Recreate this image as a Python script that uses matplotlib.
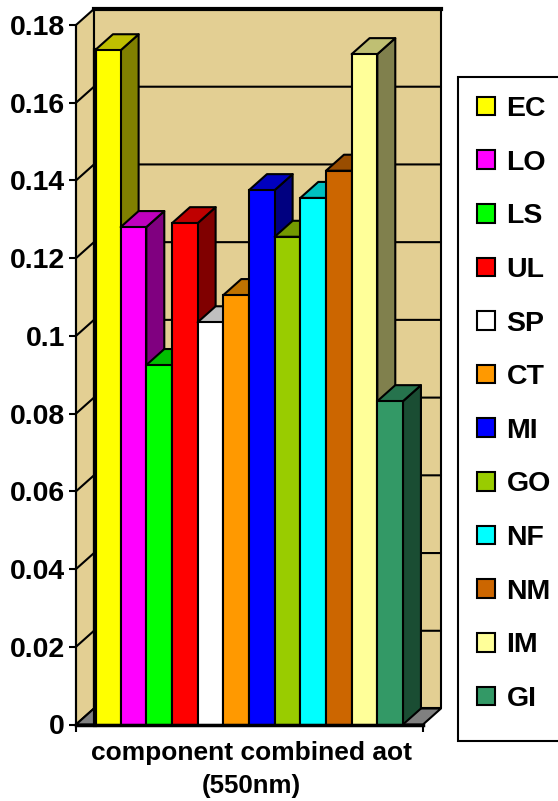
import matplotlib
matplotlib.use("Agg")
import matplotlib.pyplot as plt
from matplotlib.patches import Polygon, Patch, Rectangle

plt.rcParams['font.family'] = ['Liberation Sans', 'DejaVu Sans']
plt.rcParams['font.weight'] = 'bold'

# values
names = ["EC", "LO", "LS", "UL", "SP", "CT", "MI", "GO", "NF", "NM", "IM", "GI"]
values = [0.1735, 0.128, 0.0925, 0.129, 0.1035, 0.1105, 0.1375, 0.1255, 0.1355, 0.1425, 0.1725, 0.0832]
front_colors = ["#FFFF00", "#FF00FF", "#00FF00", "#FF0000", "#FFFFFF", "#FF9900",
                "#0000FF", "#99CC00", "#00FFFF", "#CC6600", "#FFFF99", "#339966"]
y_ticks = [0, 0.02, 0.04, 0.06, 0.08, 0.1, 0.12, 0.14, 0.16, 0.18]
y_tick_labels = ["0", "0.02", "0.04", "0.06", "0.08", "0.1", "0.12", "0.14", "0.16", "0.18"]

wall_color = "#E3CF93"
floor_color = "#808080"
x_min, x_max = -1.24, 12.28
y_max = 0.18
depth_x = 0.70      # depth of the fake 3d box, in data units
depth_y = 0.00412
lw = 1.5


def shade(color, k):
    r, g, b = matplotlib.colors.to_rgb(color)
    return (r * k, g * k, b * k)


fig = plt.figure(figsize=(5.58, 8.01), dpi=100)
ax = fig.add_axes([76 / 558, 1 - 724.5 / 801, 347 / 558, 699.5 / 801])
ax.set_xlim(x_min, x_max)
ax.set_ylim(0, y_max)
ax.patch.set_visible(False)


def poly(points, face, z=1, width=lw):
    ax.add_patch(Polygon(points, closed=True, facecolor=face, edgecolor="black",
                         linewidth=width, clip_on=False, zorder=z, joinstyle="round"))


# back wall, left wall, floor
back_x0 = x_min + depth_x
back_x1 = x_max + depth_x
poly([(back_x0, depth_y), (back_x1, depth_y), (back_x1, y_max + depth_y), (back_x0, y_max + depth_y)], wall_color)
poly([(x_min, 0), (back_x0, depth_y), (back_x0, y_max + depth_y), (x_min, y_max)], wall_color)
poly([(x_min, 0), (x_max, 0), (back_x1, depth_y), (back_x0, depth_y)], floor_color)
ax.plot([back_x0, back_x1], [y_max + depth_y] * 2, color="black", lw=3, clip_on=False, zorder=1.2)

# grid on both walls
for t in y_ticks[1:-1]:
    ax.plot([x_min, back_x0, back_x1], [t, t + depth_y, t + depth_y], color="black", lw=lw,
            clip_on=False, zorder=1.1)

# bars, left to right so that each one hides the side of the one before
for i, (v, c) in enumerate(zip(values, front_colors)):
    z = 2 + i
    x0, x1 = i - 0.5, i + 0.5
    side = shade(c, 0.5)
    top = shade(c, 0.75)
    poly([(x1, 0), (x1 + depth_x, depth_y), (x1 + depth_x, v + depth_y), (x1, v)], side, z)
    poly([(x0, v), (x1, v), (x1 + depth_x, v + depth_y), (x0 + depth_x, v + depth_y)], top, z)
    ax.bar(i, v, width=1, color=c, edgecolor="black", linewidth=lw, zorder=z + 0.5, clip_on=False)

ax.plot([-0.5, -0.5], [0, values[0]], color="black", lw=3, zorder=20, clip_on=False)
ax.plot([x_min, x_max], [0, 0], color="black", lw=2.5, zorder=20, clip_on=False)

for s in ["top", "right", "bottom"]:
    ax.spines[s].set_visible(False)
ax.spines["left"].set_linewidth(lw)
ax.set_yticks(y_ticks)
ax.set_yticklabels(y_tick_labels, fontsize=20.5, fontweight="bold")
ax.tick_params(axis="y", length=5, width=lw, pad=3)
ax.set_xticks([x_min, x_max])
ax.set_xticklabels(["", ""])
ax.tick_params(axis="x", length=5, width=lw)

fig.text(251 / 558, 1 - 753 / 801, "component combined aot", ha="center", va="center",
         fontsize=19, fontweight="bold")
fig.text(251 / 558, 1 - 786 / 801, "(550nm)", ha="center", va="center",
         fontsize=18.6, fontweight="bold")

# legend box runs off the right edge of the picture
fig.add_artist(Rectangle((458 / 558, 1 - 741 / 801), 110 / 558, 664 / 801, transform=fig.transFigure,
                         facecolor="white", edgecolor="black", linewidth=lw))
handles = [Patch(facecolor=c, edgecolor="black", linewidth=lw) for c in front_colors]
leg = fig.legend(handles, names, loc="upper left", bbox_to_anchor=(458 / 558, 1 - 77 / 801),
                 fontsize=20.5, frameon=False,
                 handlelength=0.63, handleheight=0.63, handletextpad=0.4,
                 labelspacing=0.97, borderpad=0.67, borderaxespad=0)

fig.savefig("out.png", dpi=100)
